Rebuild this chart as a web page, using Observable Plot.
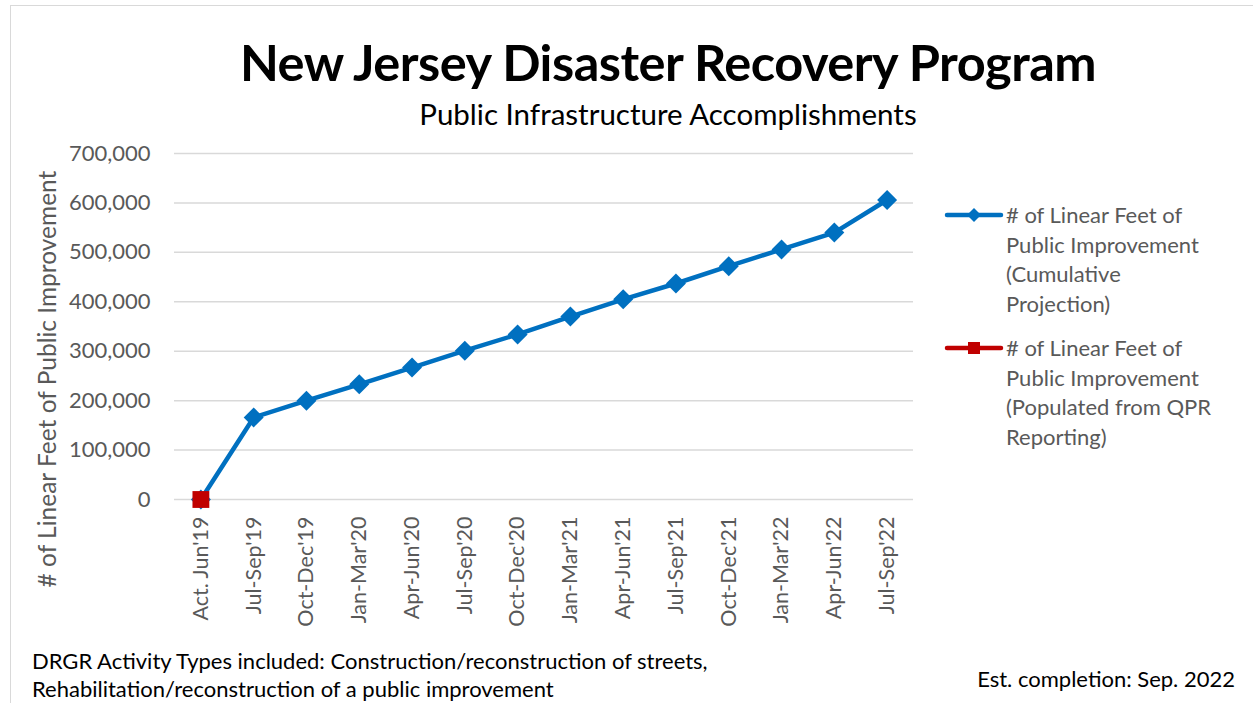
<!DOCTYPE html>
<html>
<head>
<meta charset="utf-8">
<script src="https://cdn.jsdelivr.net/npm/d3@7"></script>
<script src="https://cdn.jsdelivr.net/npm/@observablehq/plot@0.6"></script>
<style>
  html, body { margin: 0; padding: 0; background: #fff; }
  #wrap { position: relative; width: 1253px; height: 703px; overflow: hidden; font-family: Lato, "Open Sans", sans-serif; }
  #frame { position: absolute; left: 10px; top: 5px; width: 1300px; height: 760px; border: 1.5px solid #d9d9d9; box-sizing: border-box; }
  #title { position: absolute; left: 0; width: 1336px; top: 32px; text-align: center; font-weight: 700; font-size: 50.5px; line-height: 1.2; color: #000; letter-spacing: -0.5px; }
  #subtitle { position: absolute; left: 0; width: 1336px; top: 96px; text-align: center; font-size: 29.5px; line-height: 1.2; color: #000; }
  #chart { position: absolute; left: 0; top: 140px; }
  #ytitle { position: absolute; left: 46px; top: 379px; transform: translate(-50%, -50%) rotate(-90deg); white-space: nowrap; font-size: 24.5px; color: #595959; }
  .leg { position: absolute; left: 944px; font-size: 22px; line-height: 29.5px; color: #595959; }
  .leg svg { position: absolute; left: 0; top: 0; }
  .leg div { margin-left: 62px; }
  #note { position: absolute; left: 32px; top: 647px; font-size: 22px; line-height: 28px; color: #000; }
  #est { position: absolute; right: 18px; top: 666px; font-size: 22px; line-height: 26px; color: #000; }
</style>
</head>
<body>
<div id="wrap">
  <div id="frame"></div>
  <div id="title">New Jersey Disaster Recovery Program</div>
  <div id="subtitle">Public Infrastructure Accomplishments</div>
  <div id="chart"></div>
  <div id="ytitle"># of Linear Feet of Public Improvement</div>
  <div class="leg" id="leg1" style="top:200px"></div>
  <div class="leg" id="leg2" style="top:333px"></div>
  <div id="note">DRGR Activity Types included: Construction/reconstruction of streets,<br>Rehabilitation/reconstruction of a public improvement</div>
  <div id="est">Est. completion: Sep. 2022</div>
</div>
<script>
// ---- data ----
const categories = ["Act. Jun'19", "Jul-Sep'19", "Oct-Dec'19", "Jan-Mar'20", "Apr-Jun'20", "Jul-Sep'20", "Oct-Dec'20", "Jan-Mar'21", "Apr-Jun'21", "Jul-Sep'21", "Oct-Dec'21", "Jan-Mar'22", "Apr-Jun'22", "Jul-Sep'22"];
const projection = [0, 166000, 200000, 233000, 267000, 301000, 334000, 370000, 405000, 437000, 472000, 506000, 540000, 606000];
const qprCategories = ["Act. Jun'19"];
const qprValues = [0];
const yTicks = [0, 100000, 200000, 300000, 400000, 500000, 600000, 700000];
const seriesNames = [
  ["# of Linear Feet of", "Public Improvement", "(Cumulative", "Projection)"],
  ["# of Linear Feet of", "Public Improvement", "(Populated from QPR", "Reporting)"]
];
const seriesColors = ["#0070c0", "#c00000"];

const projData = categories.map((c, i) => ({cat: c, value: projection[i]}));
const qprData = qprCategories.map((c, i) => ({cat: c, value: qprValues[i]}));

const chart = Plot.plot({
  width: 930,
  height: 500,
  marginLeft: 174,
  marginRight: 17,
  marginTop: 13,
  marginBottom: 141,
  style: {fontFamily: "Lato, 'Open Sans', sans-serif", color: "#595959", background: "transparent"},
  x: {type: "point", domain: categories, padding: 0.5, round: false},
  y: {domain: [0, 700000]},
  marks: [
    Plot.gridY(yTicks, {stroke: "#d9d9d9", strokeOpacity: 1, strokeWidth: 1.5}),
    Plot.axisY(yTicks, {tickSize: 0, tickPadding: 24, fontSize: 22, tickFormat: d3.format(","), label: null, fill: "#595959"}),
    Plot.axisX({tickRotate: -90, tickSize: 0, tickPadding: 17, fontSize: 21.5, label: null, fill: "#595959"}),
    Plot.line(projData, {x: "cat", y: "value", stroke: seriesColors[0], strokeWidth: 4.5}),
    Plot.dot(projData, {x: "cat", y: "value", symbol: "diamond2", r: 9, fill: seriesColors[0], stroke: "none"}),
    Plot.dot(qprData, {x: "cat", y: "value", symbol: "square", r: 9.5, fill: seriesColors[1], stroke: "none"})
  ]
});
document.getElementById("chart").appendChild(chart);

// legend
function legend(id, i, symbol) {
  const el = document.getElementById(id);
  const s = d3.create("svg").attr("width", 62).attr("height", 30);
  s.append("line").attr("x1", 3).attr("x2", 57).attr("y1", 15).attr("y2", 15)
    .attr("stroke", seriesColors[i]).attr("stroke-width", 4.5).attr("stroke-linecap", "round");
  if (symbol === "diamond") {
    s.append("path").attr("d", "M30,8L37,15L30,22L23,15Z").attr("fill", seriesColors[i]);
  } else {
    s.append("rect").attr("x", 24).attr("y", 9).attr("width", 12).attr("height", 12).attr("fill", seriesColors[i]);
  }
  el.appendChild(s.node());
  const t = document.createElement("div");
  t.innerHTML = seriesNames[i].join("<br>");
  el.appendChild(t);
}
legend("leg1", 0, "diamond");
legend("leg2", 1, "square");
</script>
</body>
</html>
